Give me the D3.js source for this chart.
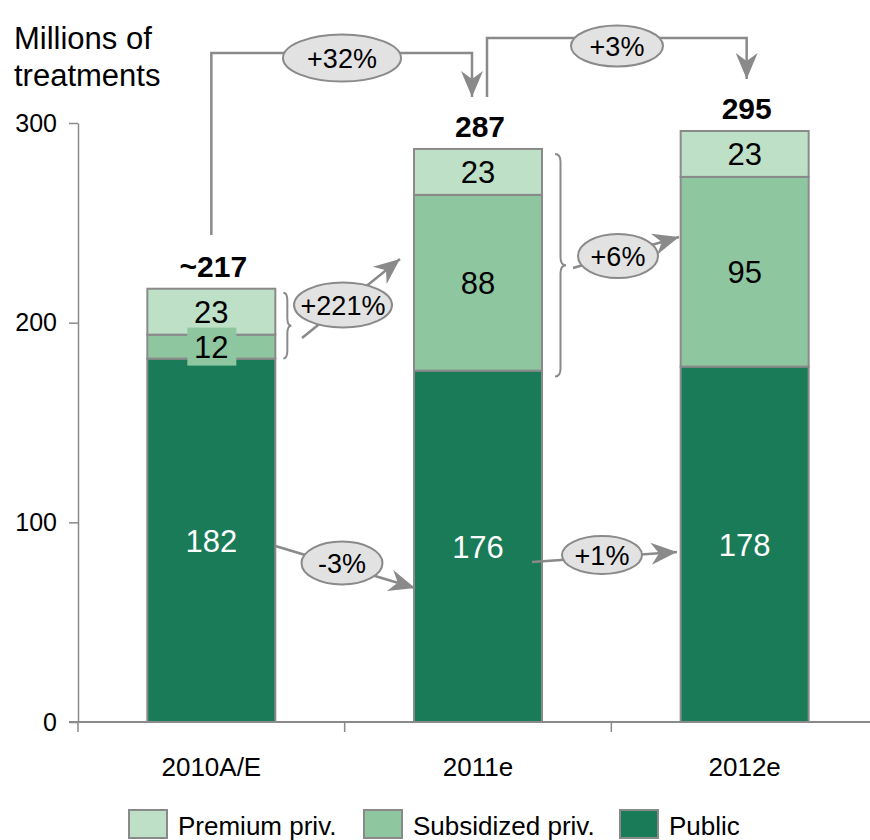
<!DOCTYPE html>
<html>
<head>
<meta charset="utf-8">
<script src="https://cdn.jsdelivr.net/npm/d3@7"></script>
<style>
  html, body { margin: 0; padding: 0; background: #fff; }
  svg { display: block; font-family: "Liberation Sans", Arial, Helvetica, sans-serif; }
</style>
</head>
<body>
<svg id="chart" width="870" height="840"></svg>
<script>
// Treatments by segment (millions)
const categories = ["2010A/E", "2011e", "2012e"];
const premium    = [23, 23, 23];
const subsidized = [12, 88, 95];
const publicVals = [182, 176, 178];
const totalLabels = ["~217", "287", "295"];
const yTicks = [0, 100, 200, 300];

// Growth callouts
const totalGrowth  = ["+32%", "+3%"];   // total, year over year
const privGrowth   = ["+221%", "+6%"];  // private (premium + subsidized)
const publicGrowth = ["-3%", "+1%"];    // public

const seriesNames  = ["Premium priv.", "Subsidized priv.", "Public"];
const colors = { premium: "#bde0c6", subsidized: "#8ec6a0", public: "#1a7b58" };
const grey = "#8a8a8a";

const svg = d3.select("#chart");

const x = d3.scaleBand().domain(categories).range([78, 878]).paddingInner(0).paddingOuter(0);
const y = d3.scaleLinear().domain([0, 300]).range([722, 123]);
const barW = x.bandwidth() * 0.48;
const cx = c => x(c) + x.bandwidth() / 2;

const defs = svg.append("defs");
defs.append("marker")
  .attr("id", "arrow")
  .attr("markerUnits", "userSpaceOnUse")
  .attr("viewBox", "-28 -13 30 26")
  .attr("refX", 0).attr("refY", 0)
  .attr("markerWidth", 30).attr("markerHeight", 26)
  .attr("orient", "auto")
  .append("path")
  .attr("d", "M0,0 L-26,-11 L-18,0 L-26,11 Z")
  .attr("fill", grey);

// Title
const title = svg.append("text").attr("x", 14).attr("font-size", 31).attr("fill", "#000");
title.append("tspan").attr("x", 14).attr("y", 49).text("Millions of");
title.append("tspan").attr("x", 14).attr("y", 86).text("treatments");

// Y axis
const yAxis = svg.append("g")
  .attr("transform", "translate(78,0)")
  .call(d3.axisLeft(y).tickValues(yTicks).tickSize(9).tickSizeOuter(0).tickPadding(12));
yAxis.selectAll("text").attr("font-size", 25).attr("fill", "#000").attr("font-family", null);
yAxis.selectAll("line, path").attr("stroke", grey).attr("stroke-width", 1.5);

// Stacked data
const rows = categories.map((c, i) => ({
  cat: c,
  segs: [
    { key: "public", v0: 0, v1: publicVals[i], val: publicVals[i] },
    { key: "subsidized", v0: publicVals[i], v1: publicVals[i] + subsidized[i], val: subsidized[i] },
    { key: "premium", v0: publicVals[i] + subsidized[i], v1: publicVals[i] + subsidized[i] + premium[i], val: premium[i] }
  ],
  total: publicVals[i] + subsidized[i] + premium[i],
  label: totalLabels[i]
}));

const barG = svg.append("g");
rows.forEach(r => {
  const g = barG.append("g");
  g.selectAll("rect").data(r.segs).join("rect")
    .attr("x", cx(r.cat) - barW / 2)
    .attr("width", barW)
    .attr("y", d => y(d.v1))
    .attr("height", d => y(d.v0) - y(d.v1))
    .attr("fill", d => colors[d.key])
    .attr("stroke", grey)
    .attr("stroke-width", 2);
});

// X axis line and category boundary ticks
svg.append("line")
  .attr("x1", 69).attr("x2", 870).attr("y1", y(0)).attr("y2", y(0))
  .attr("stroke", grey).attr("stroke-width", 2);
svg.append("g").selectAll("line").data(categories).join("line")
  .attr("x1", d => x(d)).attr("x2", d => x(d))
  .attr("y1", y(0)).attr("y2", y(0) + 10)
  .attr("stroke", grey).attr("stroke-width", 1.5);
const xAxis = svg.append("g")
  .attr("transform", `translate(0,${y(0)})`)
  .call(d3.axisBottom(x).tickSize(0).tickPadding(36));
xAxis.select(".domain").remove();
xAxis.selectAll("text").attr("font-size", 26).attr("fill", "#000").attr("font-family", null);

// Segment value labels
rows.forEach(r => {
  r.segs.forEach(s => {
    const my = (y(s.v0) + y(s.v1)) / 2;
    if (s.key === "subsidized" && s.val < 20) {
      // small segment: label sits on its own tinted plate
      svg.append("rect")
        .attr("x", cx(r.cat) - 24).attr("y", my - 19)
        .attr("width", 49).attr("height", 38)
        .attr("fill", colors.subsidized);
    }
    svg.append("text")
      .attr("x", cx(r.cat)).attr("y", my + 1)
      .attr("text-anchor", "middle").attr("dominant-baseline", "central")
      .attr("font-size", 31)
      .attr("fill", s.key === "public" ? "#fff" : "#000")
      .text(s.val);
  });
  svg.append("text")
    .attr("x", cx(r.cat) + 2).attr("y", y(r.total) - 12)
    .attr("text-anchor", "middle")
    .attr("font-size", 30).attr("font-weight", "bold")
    .text(r.label);
});

// Callout ellipse with text
function bubble(px, py, rx, ry, label) {
  svg.append("ellipse")
    .attr("cx", px).attr("cy", py).attr("rx", rx).attr("ry", ry)
    .attr("fill", "#e2e2e2").attr("stroke", grey).attr("stroke-width", 2);
  svg.append("text")
    .attr("x", px).attr("y", py + 1)
    .attr("text-anchor", "middle").attr("dominant-baseline", "central")
    .attr("font-size", 27).text(label);
}

function arrowLine(pts) {
  svg.append("path")
    .attr("d", d3.line()(pts))
    .attr("fill", "none").attr("stroke", grey).attr("stroke-width", 2.5)
    .attr("marker-end", "url(#arrow)");
}

function brace(x0, y0, y1, w) {
  const ym = (y0 + y1) / 2, h = w / 2, r = Math.min(8, (y1 - y0) / 4);
  const d = `M${x0},${y0} Q${x0 + h},${y0} ${x0 + h},${y0 + r} L${x0 + h},${ym - r} ` +
            `Q${x0 + h},${ym} ${x0 + w},${ym} Q${x0 + h},${ym} ${x0 + h},${ym + r} ` +
            `L${x0 + h},${y1 - r} Q${x0 + h},${y1} ${x0},${y1}`;
  svg.append("path").attr("d", d).attr("fill", "none").attr("stroke", grey).attr("stroke-width", 2);
}

// Total growth connectors over the bars
const c0 = cx(categories[0]), c1 = cx(categories[1]), c2 = cx(categories[2]);
arrowLine([[c0, 235], [c0, 53], [c1 - 6, 53], [c1 - 6, 97]]);
bubble(342, 58, 59, 23.5, totalGrowth[0]);
arrowLine([[c1 + 9, 97], [c1 + 9, 38], [c2 + 2, 38], [c2 + 2, 79]]);
bubble(617, 46, 46, 20.5, totalGrowth[1]);

// Private segments growth
const right0 = cx(categories[0]) + barW / 2, right1 = cx(categories[1]) + barW / 2;
brace(right0 + 8, y(rows[0].total) + 4, y(publicVals[0]), 8);
arrowLine([[302, 338], [400, 259]]);
bubble(343, 305, 49, 22.5, privGrowth[0]);
brace(right1 + 13, y(rows[1].total) + 5, y(publicVals[1]) + 6, 11);
arrowLine([[573, 268], [679, 237]]);
bubble(618, 256, 40, 22, privGrowth[1]);

// Public segment growth
arrowLine([[right0, 546], [415, 588]]);
bubble(342, 563, 40.5, 21.5, publicGrowth[0]);
arrowLine([[right1 - 10, 562], [677, 552]]);
bubble(602, 555, 40, 19, publicGrowth[1]);

// Legend
const legendItems = [
  { name: seriesNames[0], color: colors.premium, x: 129 },
  { name: seriesNames[1], color: colors.subsidized, x: 364 },
  { name: seriesNames[2], color: colors.public, x: 620 }
];
const lg = svg.append("g");
legendItems.forEach(it => {
  lg.append("rect").attr("x", it.x).attr("y", 810).attr("width", 38).attr("height", 28)
    .attr("fill", it.color).attr("stroke", grey).attr("stroke-width", 2);
  lg.append("text").attr("x", it.x + 49).attr("y", 835).attr("font-size", 26).text(it.name);
});
</script>
</body>
</html>
